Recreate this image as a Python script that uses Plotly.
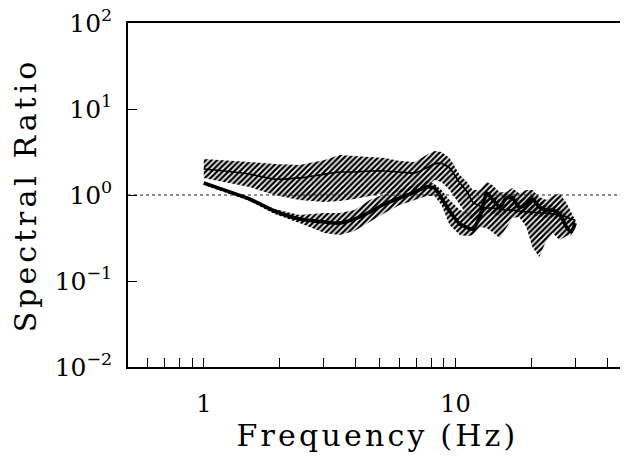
import math
import plotly.graph_objects as go

# ---- data ----
freq = [1.00, 1.21, 1.52, 1.91, 2.40, 3.02, 3.46, 3.97, 4.56, 5.23, 6.00, 6.88, 7.67,
        8.25, 8.80, 9.47, 10.4, 11.1, 11.7, 12.5, 13.3, 14.0, 15.0, 15.9, 16.8, 17.9,
        19.1, 20.2, 21.5, 23.0, 24.3, 25.9, 27.6, 28.8, 29.9]

thin_mean = [2.01, 1.90, 1.75, 1.53, 1.58, 1.75, 1.85, 1.85, 1.90, 1.90, 1.85, 1.80, 2.06,
             2.30, 2.33, 2.06, 1.38, 1.10, 0.830, 0.745, 0.706, 0.706, 0.688, 0.669, 0.669,
             0.652, 0.634, 0.634, 0.618, 0.618, 0.601, 0.585, 0.555, 0.526, 0.512]
thin_hi = [2.62, 2.55, 2.42, 2.29, 2.23, 2.55, 2.92, 2.84, 2.77, 2.69, 2.48, 2.42, 2.92,
           3.25, 3.16, 2.69, 1.71, 1.42, 1.14, 1.14, 1.42, 1.31, 1.08, 1.08, 1.21, 1.05,
           1.14, 1.14, 0.948, 0.875, 0.974, 1.05, 0.807, 0.618, 0.512]
thin_lo = [1.58, 1.42, 1.24, 1.00, 0.875, 0.829, 0.852, 0.899, 0.974, 1.05, 1.08, 1.14, 1.24,
           1.49, 1.42, 1.14, 0.765, 0.585, 0.512, 0.541, 0.634, 0.601, 0.570, 0.601, 0.634,
           0.601, 0.601, 0.585, 0.555, 0.541, 0.541, 0.512, 0.485, 0.460, 0.485]

thick_mean = [1.38, 1.14, 0.899, 0.652, 0.526, 0.485, 0.472, 0.526, 0.634, 0.786, 0.923, 1.08,
              1.24, 1.21, 0.923, 0.650, 0.460, 0.420, 0.400, 0.560, 1.05, 0.899, 0.725, 0.923,
              0.923, 0.725, 0.765, 0.899, 0.725, 0.669, 0.669, 0.601, 0.425, 0.371, 0.472]
thick_hi = [1.42, 1.17, 0.923, 0.688, 0.585, 0.618, 0.618, 0.669, 0.875, 1.03, 1.17, 1.31,
            1.49, 1.34, 1.14, 0.875, 0.669, 0.634, 0.601, 0.765, 1.14, 1.00, 0.875, 1.03,
            1.03, 0.875, 0.923, 1.00, 0.875, 0.765, 0.765, 0.706, 0.585, 0.512, 0.512]
thick_lo = [1.31, 1.08, 0.852, 0.601, 0.472, 0.362, 0.343, 0.381, 0.485, 0.618, 0.765, 0.875,
            0.974, 0.974, 0.765, 0.448, 0.343, 0.334, 0.340, 0.425, 0.413, 0.371, 0.316, 0.413,
            0.541, 0.555, 0.425, 0.249, 0.190, 0.300, 0.362, 0.300, 0.334, 0.340, 0.413]

x_min, x_max = 0.5, 48.0
y_min, y_max = 0.01, 100.0
ref_level = 1.0

x_major = [1, 10]
x_major_text = ["1", "10"]
x_minor = [0.6, 0.7, 0.8, 0.9, 2, 3, 4, 5, 6, 7, 8, 9, 20, 30, 40]
y_tickvals = [0.01, 0.1, 1, 10, 100]
y_ticktext = ["10<sup>\u22122</sup>", "10<sup>\u22121</sup>", "10<sup>0</sup>",
              "10<sup>1</sup>", "10<sup>2</sup>"]

FONT = "DejaVu Serif"
hatch = dict(shape="/", fgcolor="black", fgopacity=1, bgcolor="rgba(0,0,0,0)",
             size=4, solidity=0.6)

fig = go.Figure()


def band(lo, hi):
    return go.Scatter(x=freq + freq[::-1], y=hi + lo[::-1], fill="toself",
                      fillcolor="rgba(0,0,0,0)", fillpattern=hatch,
                      line=dict(width=0), mode="lines", hoverinfo="skip", showlegend=False)


fig.add_trace(band(thin_lo, thin_hi))
fig.add_trace(band(thick_lo, thick_hi))

fig.add_trace(go.Scatter(x=[x_min, x_max], y=[ref_level, ref_level], mode="lines",
                         line=dict(color="#222222", width=1.2, dash="dot"), showlegend=False))
fig.add_trace(go.Scatter(x=freq, y=thin_mean, mode="lines",
                         line=dict(color="black", width=1.6, shape="spline", smoothing=0.6),
                         showlegend=False))
fig.add_trace(go.Scatter(x=freq, y=thick_mean, mode="lines",
                         line=dict(color="black", width=3.6, shape="spline", smoothing=0.6),
                         showlegend=False))

# page body adds an 8px margin, so the figure is 8px smaller than the window
fig.update_layout(
    width=620, height=456,
    margin=dict(l=120, r=1, t=15, b=97),
    paper_bgcolor="white", plot_bgcolor="white",
    font=dict(family=FONT, color="black", size=24),
    xaxis=dict(type="log", range=[math.log10(x_min), math.log10(x_max)], automargin=False,
               showgrid=False, zeroline=False, showline=True, mirror=True,
               linecolor="black", linewidth=1.5,
               ticks="inside", ticklen=9, tickwidth=1.3, tickcolor="black",
               tickvals=x_major, ticktext=x_major_text, ticklabelstandoff=14,
               minor=dict(tickvals=x_minor, ticks="inside", ticklen=9, tickwidth=1.3,
                          tickcolor="black", showgrid=False),
               tickfont=dict(size=24),
               title=dict(text='<span style="letter-spacing:3.2px">Frequency (Hz)</span>',
                          font=dict(size=30), standoff=2)),
    yaxis=dict(type="log", range=[math.log10(y_min), math.log10(y_max)], automargin=False,
               showgrid=False, zeroline=False, showline=True, mirror=False,
               linecolor="black", linewidth=1.5,
               ticks="inside", ticklen=9, tickwidth=1.3, tickcolor="black",
               tickvals=y_tickvals, ticktext=y_ticktext, ticklabelstandoff=9,
               ticklabeloverflow="allow",
               tickfont=dict(size=25),
               title=dict(text='<span style="letter-spacing:4px">Spectral Ratio</span>',
                          font=dict(size=30), standoff=10)),
)

fig.write_html("out.html")
